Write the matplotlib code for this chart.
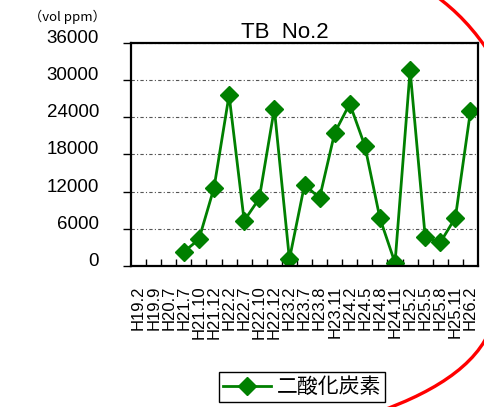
import numpy as np
import matplotlib
matplotlib.use('Agg')
import matplotlib.pyplot as plt
from matplotlib.path import Path
from matplotlib.patches import PathPatch

# x axis categories (survey dates)
labels = ['H19.2', 'H19.9', 'H20.7', 'H21.7', 'H21.10', 'H21.12', 'H22.2',
          'H22.7', 'H22.10', 'H22.12', 'H23.2', 'H23.7', 'H23.8', 'H23.11',
          'H24.2', 'H24.5', 'H24.8', 'H24.11', 'H25.2', 'H25.5', 'H25.8',
          'H25.11', 'H26.2']
# CO2 values (vol ppm), first three dates have no data
co2 = [np.nan, np.nan, np.nan, 2300, 4300, 12600, 27600, 7300, 10900, 25400,
       1100, 13100, 11000, 21500, 26200, 19400, 7700, 500, 31600, 4700,
       3800, 7800, 25000]
yticks = [0, 6000, 12000, 18000, 24000, 30000, 36000]

plt.rcParams['font.family'] = ['Liberation Sans', 'Noto Sans CJK JP']

fig = plt.figure(figsize=(4.84, 4.07), dpi=100)
ax = fig.add_axes([0.2707, 0.3464, 0.7169, 0.548])

x = np.arange(len(labels))
ax.plot(x, co2, color='#008000', lw=2, marker='D', ms=9.5,
        label='二酸化炭素')

ax.set_xlim(-0.5, len(labels) - 0.5)
ax.set_ylim(0, 36000)
ax.set_yticks(yticks)
ax.set_yticklabels([str(v) for v in yticks], fontsize=13.5)
for t in ax.get_yticklabels():
    t.set_va('baseline')
ax.tick_params(axis='y', direction='out', length=6, width=1, pad=17)

ax.set_xticks(x)
ax.set_xticklabels(labels, rotation=90, fontsize=12)
ax.set_xticks(np.arange(0.5, len(labels) - 1, 1), minor=True)
ax.tick_params(axis='x', which='major', length=0, pad=14)
ax.tick_params(axis='x', which='minor', direction='in', length=5, width=1)

ax.yaxis.grid(True, linestyle=(0, (3, 2, 1, 2)), color='#555555', lw=0.8)
for s in ax.spines.values():
    s.set_linewidth(1.6)

fig.text(285 / 484, 1 - 33 / 407, 'TB  No.2', fontsize=16,
         ha='center', va='center')
fig.text(67 / 484, 1 - 17 / 407, '（vol ppm）', fontsize=9.5,
         family=['Noto Sans CJK JP'], ha='center', va='center')

leg = fig.legend(loc='center', bbox_to_anchor=(302 / 484, 1 - 387 / 407),
                 prop={'family': ['Noto Sans CJK JP'], 'size': 15},
                 handlelength=2.3, handletextpad=0.3, borderpad=0.2,
                 fancybox=False, framealpha=1, edgecolor='black')
leg.get_frame().set_linewidth(1)


# red hand-drawn circle, only its right part is inside the picture
def px(p):
    return (p[0] / 484, 1 - p[1] / 407)


top = [px(p) for p in [(436, -4), (455, 10), (474, 28), (494, 60)]]
bottom = [px(p) for p in [(494, 318), (484, 360), (440, 390), (378, 412)]]
codes = [Path.MOVETO, Path.CURVE4, Path.CURVE4, Path.CURVE4]
for pts in (top, bottom):
    fig.add_artist(PathPatch(Path(pts, codes), transform=fig.transFigure,
                             fill=False, ec='red', lw=2.4))

fig.savefig('out.png', dpi=100)
